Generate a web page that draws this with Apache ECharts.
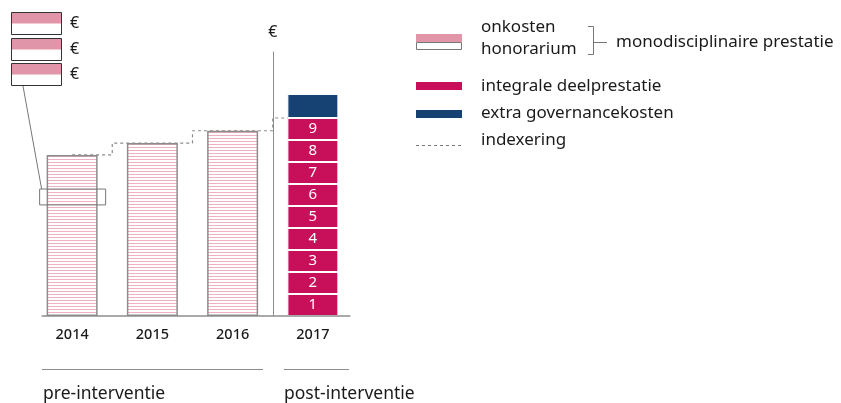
<!DOCTYPE html>
<html>
<head>
<meta charset="utf-8">
<script src="https://cdn.jsdelivr.net/npm/echarts@6/dist/echarts.min.js"></script>
<style>
  html, body { margin: 0; padding: 0; background: #fff; }
  #main { width: 841px; height: 403px; }
</style>
</head>
<body>
<div id="main"></div>
<script>
// jaren op de x-as
var jaren = ['2014', '2015', '2016', '2017']
// monodisciplinaire prestatie (onkosten + honorarium), eenheid = 1 deelprestatie
var monodisciplinair = [7.32, 7.86, 8.42, '-']
// integrale deelprestaties in 2017
var deelprestaties = [1, 1, 1, 1, 1, 1, 1, 1, 1]
var deelLabels = ['1', '2', '3', '4', '5', '6', '7', '8', '9']
// extra governancekosten
var governance = ['-', '-', '-', 1.09]
// indexering (trap)
var indexering = [7.32, 7.86, 8.42, 9]
// gemarkeerde strook in de balk van 2014
var selectie = [5.05, 5.77]
var yMax = 12

var roze = '#e096a8'
var robijn = '#c8105a'
var donkerblauw = '#154273'
var tekst = '#1a1a1a'
var lijn = '#8c8c8c'
var font = 'Noto Sans'

// streepjespatroon voor de monodisciplinaire balken
var patroon = document.createElement('canvas')
patroon.width = 4
patroon.height = 3
var ctx = patroon.getContext('2d')
ctx.fillStyle = '#ffffff'
ctx.fillRect(0, 0, 4, 3)
ctx.fillStyle = '#f0b0c2'
ctx.fillRect(0, 0, 4, 1)

var myChart = echarts.init(document.getElementById('main'))

var series = []
series.push({
  type: 'line',
  name: 'indexering',
  step: 'middle',
  data: indexering,
  symbol: 'none',
  silent: true,
  z: 1,
  lineStyle: { color: '#8a8a8a', width: 1.2, type: [3, 3] }
})
series.push({
  type: 'bar',
  stack: 'totaal',
  data: monodisciplinair,
  barWidth: 51,
  z: 3,
  itemStyle: { color: { image: patroon, repeat: 'repeat' }, borderColor: lijn, borderWidth: 1.5 }
})
deelprestaties.forEach(function (v, i) {
  series.push({
    type: 'bar',
    stack: 'totaal',
    z: 3,
    data: ['-', '-', '-', v],
    itemStyle: { color: robijn, borderColor: '#fff', borderWidth: 1 },
    label: { show: true, formatter: deelLabels[i], color: '#fff', fontSize: 15, fontFamily: font }
  })
})
series.push({
  type: 'bar',
  stack: 'totaal',
  z: 3,
  data: governance,
  itemStyle: { color: donkerblauw, borderColor: '#fff', borderWidth: 1 }
})

var gridLeft = 32
var gridWidth = 321

var options = {
  animation: false,
  textStyle: { fontFamily: font },
  grid: { left: gridLeft, top: 52, width: gridWidth, height: 264 },
  xAxis: {
    type: 'category',
    data: jaren,
    axisLine: { show: false },
    axisTick: { show: false },
    axisLabel: { margin: 11, fontSize: 14.5, fontWeight: 500, color: tekst, fontFamily: font }
  },
  yAxis: {
    type: 'value',
    min: 0,
    max: yMax,
    position: 'left',
    offset: -(gridWidth * 3 / 4),
    name: '€',
    nameLocation: 'end',
    nameGap: 12,
    nameTextStyle: { fontSize: 16, color: tekst, fontFamily: font },
    axisLine: { show: true, lineStyle: { color: lijn, width: 1 } },
    axisTick: { show: false },
    axisLabel: { show: false },
    splitLine: { show: false }
  },
  series: series
}

myChart.setOption(options)

// decoratie: basislijn, markering, legenda's en periodes
var c2014 = myChart.convertToPixel({ xAxisIndex: 0 }, 0)
var c2017 = myChart.convertToPixel({ xAxisIndex: 0 }, 3)
var y0 = myChart.convertToPixel({ yAxisIndex: 0 }, 0)
var ySelBoven = myChart.convertToPixel({ yAxisIndex: 0 }, selectie[1])
var ySelOnder = myChart.convertToPixel({ yAxisIndex: 0 }, selectie[0])

var graphic = []
// basislijn
graphic.push({ type: 'line', shape: { x1: c2014 - 30.5, y1: y0, x2: c2017 + 37.5, y2: y0 }, style: { stroke: lijn, lineWidth: 1.5 }, z: 10 })
// markering in 2014
graphic.push({ type: 'rect', shape: { x: c2014 - 32.5, y: ySelBoven, width: 66, height: ySelOnder - ySelBoven }, style: { fill: 'none', stroke: '#777', lineWidth: 1 }, z: 10 })
graphic.push({ type: 'line', shape: { x1: 23, y1: 86, x2: c2014 - 30.5, y2: ySelBoven }, style: { stroke: '#777', lineWidth: 1 }, z: 10 })
// kleine legenda linksboven
;[12, 38, 63].forEach(function (y) {
  graphic.push({ type: 'rect', shape: { x: 11.5, y: y + 0.5, width: 50, height: 11 }, style: { fill: roze }, z: 10 })
  graphic.push({ type: 'rect', shape: { x: 11.5, y: y + 0.5, width: 50, height: 22 }, style: { fill: 'none', stroke: '#333', lineWidth: 1 }, z: 10 })
  graphic.push({ type: 'text', x: 70, y: y + 11.5, style: { text: '€', fontSize: 16, fill: tekst, fontFamily: font, verticalAlign: 'middle' }, z: 10 })
})
// legenda rechts
var lx = 416
graphic.push({ type: 'rect', shape: { x: lx, y: 34, width: 46, height: 8 }, style: { fill: roze }, z: 10 })
graphic.push({ type: 'rect', shape: { x: lx + 0.5, y: 42.5, width: 45, height: 7 }, style: { fill: '#fff', stroke: '#777', lineWidth: 1 }, z: 10 })
graphic.push({ type: 'rect', shape: { x: lx, y: 82, width: 46, height: 8 }, style: { fill: robijn }, z: 10 })
graphic.push({ type: 'rect', shape: { x: lx, y: 110, width: 46, height: 8 }, style: { fill: donkerblauw }, z: 10 })
graphic.push({ type: 'line', shape: { x1: lx, y1: 145.5, x2: lx + 46, y2: 145.5 }, style: { stroke: '#777', lineWidth: 1, lineDash: [3, 3] }, z: 10 })
var legTekst = [['onkosten', 27], ['honorarium', 49], ['integrale deelprestatie', 86], ['extra governancekosten', 113], ['indexering', 140]]
legTekst.forEach(function (t) {
  graphic.push({ type: 'text', x: 481, y: t[1], style: { text: t[0], fontSize: 17, fill: tekst, fontFamily: font, verticalAlign: 'middle' }, z: 10 })
})
// accolade
graphic.push({ type: 'polyline', shape: { points: [[588, 26.5], [593.5, 26.5], [593.5, 54.5], [588, 54.5]] }, style: { stroke: '#777', lineWidth: 1, fill: 'none' }, z: 10 })
graphic.push({ type: 'line', shape: { x1: 593.5, y1: 42.5, x2: 607, y2: 42.5 }, style: { stroke: '#777', lineWidth: 1 }, z: 10 })
graphic.push({ type: 'text', x: 616, y: 42, style: { text: 'monodisciplinaire prestatie', fontSize: 17, fill: tekst, fontFamily: font, verticalAlign: 'middle' }, z: 10 })
// periodes onderaan
graphic.push({ type: 'line', shape: { x1: 42, y1: 369.5, x2: 263, y2: 369.5 }, style: { stroke: lijn, lineWidth: 1 }, z: 10 })
graphic.push({ type: 'line', shape: { x1: 284, y1: 369.5, x2: 349, y2: 369.5 }, style: { stroke: lijn, lineWidth: 1 }, z: 10 })
graphic.push({ type: 'text', x: 43, y: 394, style: { text: 'pre-interventie', fontSize: 17.5, fill: tekst, fontFamily: font, verticalAlign: 'middle' }, z: 10 })
graphic.push({ type: 'text', x: 284, y: 394, style: { text: 'post-interventie', fontSize: 17.5, fill: tekst, fontFamily: font, verticalAlign: 'middle' }, z: 10 })

myChart.setOption({ graphic: graphic })
</script>
</body>
</html>
